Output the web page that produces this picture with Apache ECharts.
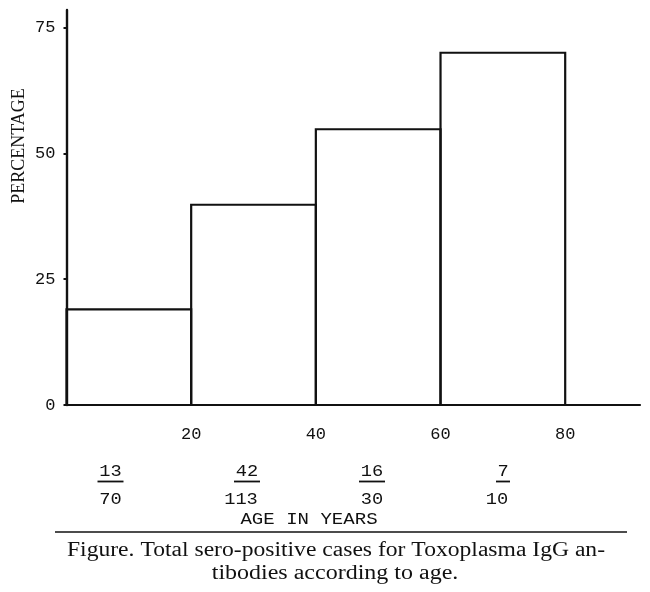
<!DOCTYPE html>
<html>
<head>
<meta charset="utf-8">
<script src="https://cdn.jsdelivr.net/npm/echarts@6/dist/echarts.min.js"></script>
<style>html,body{margin:0;padding:0;background:#fff}#c{width:650px;height:592px}</style>
</head>
<body>
<div id="c"></div>
<script>
// Age bins (years)
const binStart = [0, 20, 40, 60];
const binEnd = [20, 40, 60, 80];
// Percentage sero-positive
const percentage = [19.0, 39.8, 54.8, 70.0];
// Counts shown under the axis
const positives = ['13', '42', '16', '7'];
const totals = ['70', '113', '30', '10'];
// Tick labels
const xTicks = [20, 40, 60, 80];
const yTicks = [0, 25, 50, 75];

const ink = '#111';
const mono = '"Liberation Mono", "DejaVu Sans Mono", monospace';
const serif = '"Liberation Serif", "DejaVu Serif", serif';

const chart = echarts.init(document.getElementById('c'));

const barData = binStart.map((s, i) => [s, binEnd[i], percentage[i]]);

// fraction annotation positions (pixels)
const fracX = [110.5, 247, 372, 503];
const graphics = [];
positives.forEach((p, i) => {
  graphics.push({
    type: 'text', x: fracX[i], y: 471, scaleX: 1.1,
    style: { text: p, font: '17px ' + mono, fill: ink, textAlign: 'center', textVerticalAlign: 'middle' }
  });
  const w = p.length * 12 + 2;
  graphics.push({
    type: 'line',
    shape: { x1: fracX[i] - w / 2, y1: 481.5, x2: fracX[i] + w / 2, y2: 481.5 },
    style: { stroke: ink, lineWidth: 1.8 }
  });
  graphics.push({
    type: 'text', x: fracX[i] - (i === 1 ? 6 : (i === 3 ? 6 : 0)), y: 499, scaleX: 1.1,
    style: { text: totals[i], font: '17px ' + mono, fill: ink, textAlign: 'center', textVerticalAlign: 'middle' }
  });
});
graphics.push({
  type: 'text', x: 309, y: 519.5, scaleX: 1.12,
  style: { text: 'AGE IN YEARS', font: '17px ' + mono, fill: ink, textAlign: 'center', textVerticalAlign: 'middle' }
});
graphics.push({
  type: 'line',
  shape: { x1: 55, y1: 532, x2: 627, y2: 532 },
  style: { stroke: ink, lineWidth: 1.4 }
});
graphics.push({
  type: 'text', x: 336, y: 551, scaleX: 1.18,
  style: { text: 'Figure. Total sero-positive cases for Toxoplasma IgG an-', font: '20px ' + serif, fill: ink, textAlign: 'center', textVerticalAlign: 'middle' }
});
graphics.push({
  type: 'text', x: 335, y: 574, scaleX: 1.2,
  style: { text: 'tibodies according to age.', font: '20px ' + serif, fill: ink, textAlign: 'center', textVerticalAlign: 'middle' }
});
graphics.push({
  type: 'text', x: 19, y: 146, rotation: Math.PI / 2,
  style: { text: 'PERCENTAGE', font: '18px ' + serif, fill: ink, textAlign: 'center', textVerticalAlign: 'middle' }
});

chart.setOption({
  animation: false,
  backgroundColor: '#fff',
  grid: { left: 66.5, right: 10, top: 10, bottom: 187, containLabel: false },
  xAxis: {
    type: 'value', min: 0, max: 92,
    splitLine: { show: false },
    axisLine: { show: true, lineStyle: { color: ink, width: 2.2 } },
    axisTick: { show: false },
    axisLabel: {
      customValues: xTicks, margin: 21,
      fontFamily: mono, fontSize: 17, color: ink
    }
  },
  yAxis: {
    type: 'value', min: 0, max: 78.5,
    splitLine: { show: false },
    axisLine: { show: true, lineStyle: { color: ink, width: 2.4 } },
    axisTick: { show: true, customValues: yTicks, length: 3, lineStyle: { color: ink, width: 2 } },
    axisLabel: {
      customValues: yTicks, margin: 11,
      fontFamily: mono, fontSize: 17, color: ink
    }
  },
  series: [{
    type: 'custom',
    data: barData,
    encode: { x: [0, 1], y: 2 },
    renderItem: function (params, api) {
      const p0 = api.coord([api.value(0), 0]);
      const p1 = api.coord([api.value(1), api.value(2)]);
      return {
        type: 'rect',
        shape: { x: p0[0], y: p1[1], width: p1[0] - p0[0], height: p0[1] - p1[1] },
        style: { fill: 'none', stroke: ink, lineWidth: 2.2 }
      };
    }
  }],
  graphic: graphics
});
</script>
</body>
</html>
